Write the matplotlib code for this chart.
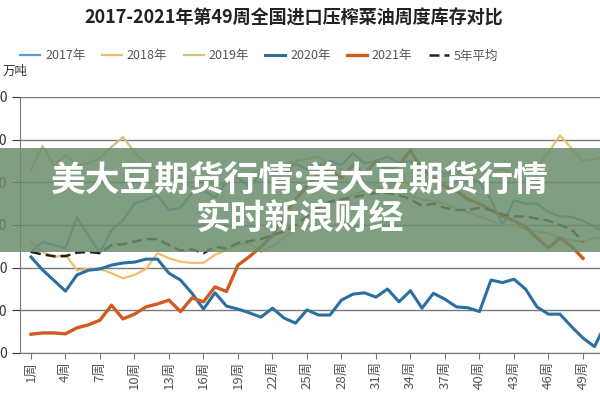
import numpy as np
import matplotlib
matplotlib.use('Agg')
import matplotlib.pyplot as plt
from matplotlib.patches import Rectangle

plt.rcParams['font.family'] = ['Noto Sans CJK SC', 'DejaVu Sans']
plt.rcParams['axes.unicode_minus'] = False

nan = np.nan
weeks = list(range(1, 52))
tick_weeks = list(range(1, 52, 3))
tick_labels = [f'{w}周' for w in tick_weeks]
y_ticks = [0, 10, 20, 30, 40, 50, 60]

s2017 = [23.7, 26.0, 25.3, 24.6, 31.8, 27.5, 23.4, 28.8, 31.1, 35.0,
         36.0, 37.0, 33.5, 34.0, 37.5, 38.0, 36.5, 40.0, 41.0, 39.0,
         42.0, 43.0, 42.0, 44.4, 43.0, 44.0, 45.0, 44.0, 46.8, 44.5,
         45.0, 46.0, 44.5, 45.0, 43.0, 44.0, 42.0, 43.0, 41.0, 40.0,
         36.0, 30.0, 35.8, 35.0, 35.0, 33.0, 32.0, 31.9, 31.0, 29.6, 28.0]
s2018 = [26.0, 23.7, 22.5, 23.0, 19.4, 19.7, 19.7, 18.7, 17.5, 18.3,
         19.7, 23.4, 22.2, 21.4, 21.1, 21.1, 23.0, 24.1, 25.3, 25.7,
         23.7, 25.0, 27.0, 29.0, 31.0, 33.0, 35.0, 36.0, 37.0, 38.0,
         38.0, 39.0, 40.0, 40.0, 40.5, 41.0, 41.5, 42.0, 42.5, 43.0,
         42.5, 43.0, 42.0, 43.0, 43.6, 47.0, 51.0, 48.0, 45.0, 45.5, 46.0]
s2019 = [42.9, 48.5, 44.0, 46.4, 44.0, 44.5, 45.7, 48.3, 50.6, 47.1,
         44.5, 43.0, 41.0, 40.0, 39.0, 38.0, 39.0, 40.0, 41.0, 42.0,
         43.0, 43.0, 44.0, 45.0, 45.5, 46.0, 44.0, 43.0, 42.0, 40.0,
         39.0, 38.0, 38.0, 37.0, 36.0, 35.5, 35.0, 34.0, 33.0, 32.0,
         31.0, 30.0, 30.0, 29.0, 28.5, 28.0, 27.0, 26.5, 26.0, 27.0, 27.0]
s2020 = [22.5, 19.5, 17.0, 14.5, 18.3, 19.4, 19.7, 20.6, 21.1, 21.3,
         22.0, 22.0, 18.7, 17.1, 14.0, 10.3, 14.1, 11.0, 10.3, 9.4,
         8.4, 10.5, 8.2, 7.0, 10.1, 8.9, 8.9, 12.4, 13.8, 14.1,
         13.1, 15.0, 12.0, 14.6, 10.5, 14.0, 12.6, 10.8, 10.6, 9.7,
         17.1, 16.5, 17.3, 15.0, 10.8, 9.1, 9.1, 6.2, 3.5, 1.5, 7.0]
s2021 = [4.4, 4.7, 4.7, 4.5, 5.9, 6.6, 7.7, 11.2, 8.0, 9.1,
         10.8, 11.5, 12.4, 9.7, 12.9, 12.0, 15.5, 14.4, 20.6, 22.6,
         24.9, 27.6, 32.0, 36.0, 39.0, 42.0, 43.0, 41.0, 44.0, 42.0,
         45.0, 43.0, 44.0, 47.5, 43.0, 41.0, 39.0, 38.0, 36.0, 35.0,
         33.5, 32.0, 31.0, 29.6, 27.0, 24.6, 27.0, 25.0, 22.2, nan, nan]
avg5 = [23.7, 23.1, 22.7, 22.7, 23.5, 23.7, 23.4, 25.3, 25.5, 26.1,
        26.7, 26.7, 25.3, 24.0, 24.3, 23.4, 24.9, 24.5, 25.8, 26.2,
        26.7, 27.6, 28.5, 30.0, 32.0, 34.0, 35.5, 36.0, 36.5, 37.0,
        37.5, 37.5, 37.0, 36.0, 34.5, 35.0, 34.0, 33.5, 33.5, 34.0,
        33.5, 32.5, 32.0, 32.0, 31.5, 31.0, 30.0, 29.0, 26.0, nan, nan]

fig = plt.figure(figsize=(6, 4), dpi=100)
ax = fig.add_axes([0.0333, 0.1175, 0.9667, 0.64])

ax.plot(weeks, s2017, color='#5b9bd5', lw=1.6, label='2017年')
ax.plot(weeks, s2018, color='#f5bd6a', lw=1.6, label='2018年')
ax.plot(weeks, s2019, color='#cfc27f', lw=1.6, label='2019年')
ax.plot(weeks, s2020, color='#2a6fa0', lw=2.2, label='2020年')
ax.plot(weeks, s2021, color='#cf5a22', lw=2.4, label='2021年')
ax.plot(weeks, avg5, color='#222222', lw=1.8, ls=(0, (4, 2)), label='5年平均')

ax.set_xlim(0.043, 50.48)
ax.set_ylim(0, 60)
ax.set_yticks(y_ticks)
ax.set_xticks(tick_weeks)
ax.set_xticklabels(tick_labels, rotation=90, fontsize=9.5, color='#555555')
ax.tick_params(axis='y', labelsize=10, colors='#333333', length=6, pad=3)
ax.tick_params(axis='x', length=4, color='#777777', pad=2)
ax.grid(axis='y', color='#7a7a7a', lw=1.0)
ax.set_axisbelow(True)
for side in ['top', 'right']:
    ax.spines[side].set_visible(False)
ax.spines['bottom'].set_color('#777777')
ax.spines['left'].set_color('#777777')

fig.text(0.49, 0.955, '2017-2021年第49周全国进口压榨菜油周度库存对比',
         ha='center', va='center', fontsize=13, fontweight='bold', color='#222222')
fig.text(0.005, 0.822, '万吨', ha='left', va='center', fontsize=9, color='#333333')
fig.legend(loc='center', bbox_to_anchor=(0.432, 0.86), ncol=6, frameon=False,
           fontsize=9, handlelength=1.6, columnspacing=1.3, handletextpad=0.4,
           labelcolor='#555555')

# watermark band
fig.patches.append(Rectangle((0, 0.37), 1, 0.26, transform=fig.transFigure,
                             facecolor='#6a8d6c', alpha=0.85, zorder=5))
fig.text(0.5, 0.548, '美大豆期货行情:美大豆期货行情', ha='center', va='center',
         fontsize=25, fontweight='bold', color='white', zorder=6)
fig.text(0.5, 0.455, '实时新浪财经', ha='center', va='center',
         fontsize=25, fontweight='bold', color='white', zorder=6)

fig.savefig('out.png', dpi=100)
